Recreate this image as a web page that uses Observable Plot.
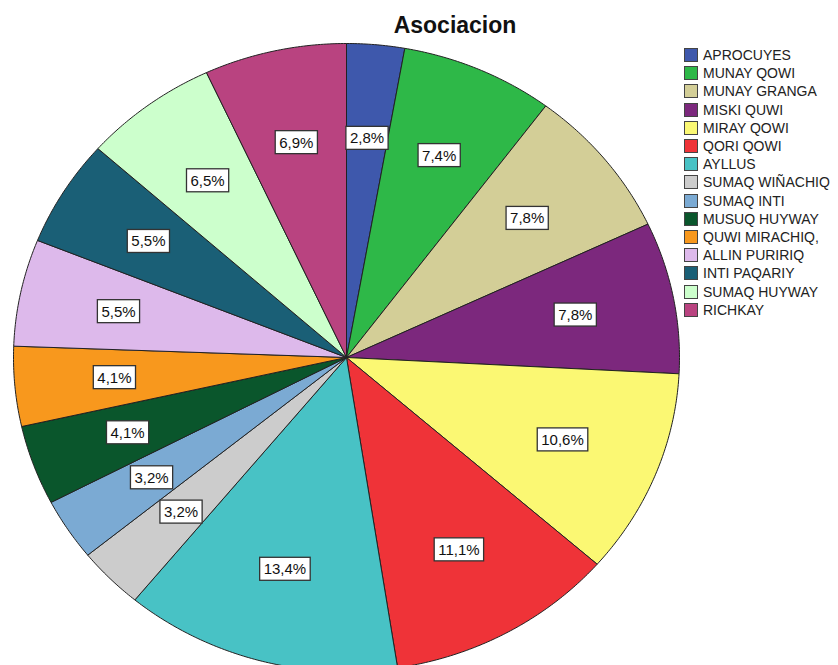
<!DOCTYPE html>
<html><head><meta charset="utf-8">
<script src="https://cdn.jsdelivr.net/npm/d3@7"></script>
<script src="https://cdn.jsdelivr.net/npm/@observablehq/plot@0.6"></script>
<style>
body{margin:0;background:#fff;font-family:"Liberation Sans",Arial,sans-serif}
#wrap{position:relative;width:838px;height:665px;overflow:hidden;background:#fff}
#chart{position:absolute;left:0;top:0}
#title{position:absolute;left:305px;width:300px;top:12px;text-align:center;font-weight:bold;font-size:23px;color:#111}
#legend{position:absolute;left:684px;top:46px;font-size:14px;color:#222}
.row{display:flex;align-items:center;height:18.2px;white-space:nowrap}
.sw{width:12px;height:12px;border:1px solid #444;margin-right:5px;flex:none}
</style></head>
<body>
<div id="wrap">
  <div id="chart"></div>
  <div id="title">Asociacion</div>
  <div id="legend"></div>
</div>
<script>
const categories = ["APROCUYES","MUNAY QOWI","MUNAY GRANGA","MISKI QUWI","MIRAY QOWI","QORI QOWI","AYLLUS","SUMAQ WIÑACHIQ","SUMAQ INTI","MUSUQ HUYWAY","QUWI MIRACHIQ,","ALLIN PURIRIQ","INTI PAQARIY","SUMAQ HUYWAY","RICHKAY"];
const percents = [2.8, 7.4, 7.8, 7.8, 10.6, 11.1, 13.4, 3.2, 3.2, 4.1, 4.1, 5.5, 5.5, 6.5, 6.9];
const colors = ["#3e58ac","#2eb848","#d3ce97","#7c287d","#fbf873","#ef3338","#48c2c5","#cccccc","#7baad3","#0a562c","#f8981d","#ddb9eb","#1a5f76","#ccffcc","#b94380"];

const total = d3.sum(percents);
// slice outlines from cumulative angles (clockwise from top)
const slicePts = [];
const labels = [];
let cum = 0;
categories.forEach((name, i) => {
  const a0 = cum / total * 2 * Math.PI;
  cum += percents[i];
  const a1 = cum / total * 2 * Math.PI;
  const n = Math.max(2, Math.ceil((a1 - a0) / (Math.PI / 360)));
  slicePts.push({name, x: 0, y: 0});
  for (let k = 0; k <= n; k++) {
    const a = a0 + (a1 - a0) * k / n;
    slicePts.push({name, x: Math.sin(a), y: Math.cos(a)});
  }
  slicePts.push({name, x: 0, y: 0});
  const am = (a0 + a1) / 2;
  labels.push({name, x: 0.7 * Math.sin(am), y: 0.7 * Math.cos(am),
    text: percents[i].toFixed(1).replace(".", ",") + "%"});
});

const svg = Plot.plot({
  width: 838, height: 665,
  margin: 0,
  x: {domain: [-1, 1], range: [13, 679], axis: null},
  y: {domain: [-1, 1], range: [671, 43], axis: null},
  color: {domain: categories, range: colors},
  style: {fontFamily: "Liberation Sans, Arial, sans-serif", background: "transparent"},
  marks: [
    Plot.line(slicePts, {x: "x", y: "y", z: "name", fill: "name", stroke: "#222", strokeWidth: 1, curve: "linear", strokeLinejoin: "round"}),
    Plot.text(labels, {x: "x", y: "y", text: "text", fontSize: 15, fill: "#111"})
  ]
});
document.getElementById("chart").appendChild(svg);

// white boxes behind percentage labels
d3.select(svg).selectAll('g[aria-label="text"] text').each(function() {
  const t = this;
  const b = t.getBBox();
  const rect = document.createElementNS("http://www.w3.org/2000/svg", "rect");
  rect.setAttribute("x", b.x - 4);
  rect.setAttribute("y", b.y - 3);
  rect.setAttribute("width", b.width + 8);
  rect.setAttribute("height", b.height + 6);
  rect.setAttribute("fill", "#fff");
  rect.setAttribute("stroke", "#333");
  rect.setAttribute("stroke-width", "1.3");
  const tr = t.getAttribute("transform");
  if (tr) rect.setAttribute("transform", tr);
  t.parentNode.insertBefore(rect, t);
});

const leg = d3.select("#legend");
categories.forEach((c, i) => {
  const r = leg.append("div").attr("class", "row");
  r.append("div").attr("class", "sw").style("background", colors[i]);
  r.append("span").text(c);
});
</script>
</body></html>
